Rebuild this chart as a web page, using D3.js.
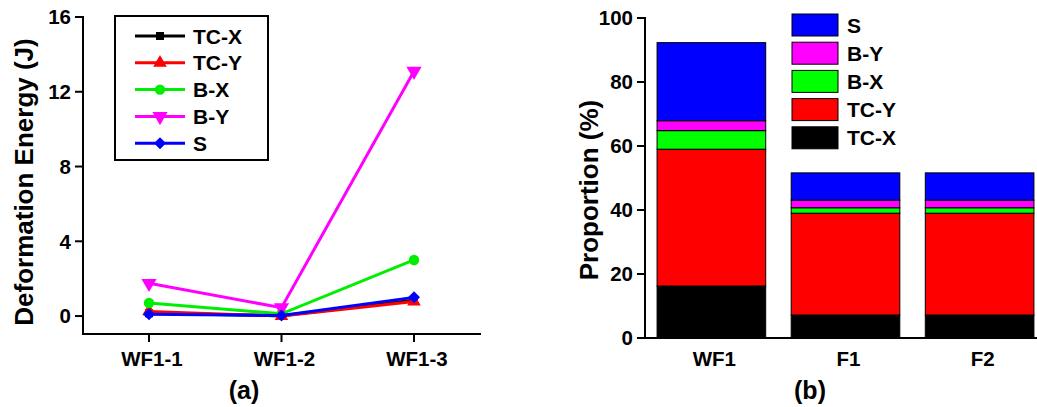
<!DOCTYPE html>
<html><head><meta charset="utf-8">
<script src="https://cdn.jsdelivr.net/npm/d3@7"></script>
<style>body{margin:0;background:#fff}text{font-family:"Liberation Sans",Arial,sans-serif;font-weight:bold;fill:#000}</style>
</head><body><svg id="c" width="1037" height="407"></svg>
<script>
// ---- data ----
const lineCats = ["WF1-1","WF1-2","WF1-3"];
const seriesNames = ["TC-X","TC-Y","B-X","B-Y","S"];
const seriesColors = ["#000000","#ff0000","#00ee00","#ff00ff","#0000ff"];
const tcX = [0.15, 0.02, 0.85];
const tcY = [0.25, 0.00, 0.78];
const bX  = [0.70, 0.12, 3.00];
const bY  = [1.75, 0.45, 13.10];
const sV  = [0.10, 0.03, 1.00];
const leftTicks = [0,4,8,12,16];

const barCats = ["WF1","F1","F2"];
const barTCX = [16.25, 7.2, 7.2];
const barTCY = [42.75, 31.8, 31.8];
const barBX  = [5.8, 1.7, 1.7];
const barBY  = [3.1, 2.4, 2.4];
const barS   = [24.4, 8.5, 8.5];
const rightTicks = [0,20,40,60,80,100];

const svg = d3.select("#c");
svg.append("rect").attr("width",1037).attr("height",407).attr("fill","#fff");

// ---- panel (a) ----
const ya = d3.scaleLinear().domain([-0.96,16]).range([334,17]);
const xa = d3.scalePoint().domain(lineCats).range([149,414]);
const ga = svg.append("g");
ga.append("line").attr("x1",83).attr("x2",83).attr("y1",ya(16)-1).attr("y2",335).attr("stroke","#000").attr("stroke-width",2);
ga.append("line").attr("x1",82).attr("x2",481).attr("y1",334).attr("y2",334).attr("stroke","#000").attr("stroke-width",2);
leftTicks.forEach(t=>{
  ga.append("line").attr("x1",75).attr("x2",83).attr("y1",ya(t)).attr("y2",ya(t)).attr("stroke","#000").attr("stroke-width",2);
  ga.append("text").attr("x",71).attr("y",ya(t)).attr("dy","0.36em").attr("text-anchor","end").attr("font-size",20.5).text(t);
});
lineCats.forEach(c=>{
  ga.append("line").attr("x1",xa(c)).attr("x2",xa(c)).attr("y1",334).attr("y2",342).attr("stroke","#000").attr("stroke-width",2);
  ga.append("text").attr("x",xa(c)+3).attr("y",366).attr("text-anchor","middle").attr("font-size",20.5).text(c);
});
ga.append("text").attr("transform","translate(33,182) rotate(-90)").attr("text-anchor","middle").attr("font-size",26).text("Deformation Energy (J)");
ga.append("text").attr("x",244).attr("y",399).attr("text-anchor","middle").attr("font-size",25).text("(a)");

const symTypes = [d3.symbolSquare, d3.symbolTriangle, d3.symbolCircle, "tridown", "diamond"];
const symSizes = [64, 80, 85, 100, 72];
function marker(g, i, x, y){
  const col = seriesColors[i];
  if (symTypes[i]==="tridown"){
    g.append("path").attr("d",d3.symbol(d3.symbolTriangle, symSizes[i])()).attr("transform",`translate(${x},${y}) rotate(180)`).attr("fill",col);
  } else if (symTypes[i]==="diamond"){
    g.append("path").attr("d",d3.symbol(d3.symbolSquare, symSizes[i])()).attr("transform",`translate(${x},${y}) rotate(45)`).attr("fill",col);
  } else {
    g.append("path").attr("d",d3.symbol(symTypes[i], symSizes[i])()).attr("transform",`translate(${x},${y})`).attr("fill",col);
  }
}
const allSeries = [tcX,tcY,bX,bY,sV];
const line = d3.line().x((d,i)=>xa(lineCats[i])).y(d=>ya(d));
allSeries.forEach((vals,i)=>{
  ga.append("path").attr("d",line(vals)).attr("fill","none").attr("stroke",seriesColors[i]).attr("stroke-width",3);
  vals.forEach((v,j)=>marker(ga,i,xa(lineCats[j]),ya(v)));
});
// legend (a)
ga.append("rect").attr("x",115).attr("y",16).attr("width",153).attr("height",144).attr("fill","#fff").attr("stroke","#000").attr("stroke-width",2);
seriesNames.forEach((n,i)=>{
  const y = 36 + i*26.8;
  ga.append("line").attr("x1",135).attr("x2",185).attr("y1",y).attr("y2",y).attr("stroke",seriesColors[i]).attr("stroke-width",3);
  marker(ga,i,160,y);
  ga.append("text").attr("x",193).attr("y",y).attr("dy","0.36em").attr("font-size",21).text(n);
});

// ---- panel (b) ----
const yb = d3.scaleLinear().domain([0,100]).range([338,18]);
const xb = d3.scaleBand().domain(barCats).range([645,1046]).paddingInner(0.19).paddingOuter(0.09);
const gb = svg.append("g");
const stackKeys = ["TC-X","TC-Y","B-X","B-Y","S"];
const stackCols = ["#000000","#ff0000","#00ff00","#ff00ff","#0000ff"];
const rows = barCats.map((c,i)=>({cat:c,"TC-X":barTCX[i],"TC-Y":barTCY[i],"B-X":barBX[i],"B-Y":barBY[i],"S":barS[i]}));
const stacked = d3.stack().keys(stackKeys)(rows);
stacked.forEach((layer,k)=>{
  gb.selectAll(null).data(layer).enter().append("rect")
    .attr("x",d=>xb(d.data.cat)).attr("width",xb.bandwidth())
    .attr("y",d=>yb(d[1])).attr("height",d=>yb(d[0])-yb(d[1]))
    .attr("fill",stackCols[k]).attr("stroke","#000").attr("stroke-width",1);
});
gb.append("line").attr("x1",645).attr("x2",645).attr("y1",17).attr("y2",339).attr("stroke","#000").attr("stroke-width",2);
gb.append("line").attr("x1",644).attr("x2",1037).attr("y1",338).attr("y2",338).attr("stroke","#000").attr("stroke-width",2);
rightTicks.forEach(t=>{
  gb.append("line").attr("x1",637).attr("x2",645).attr("y1",yb(t)).attr("y2",yb(t)).attr("stroke","#000").attr("stroke-width",2);
  gb.append("text").attr("x",633).attr("y",yb(t)).attr("dy","0.36em").attr("text-anchor","end").attr("font-size",20.5).text(t);
});
barCats.forEach(c=>{
  gb.append("text").attr("x",xb(c)+xb.bandwidth()/2+3).attr("y",366).attr("text-anchor","middle").attr("font-size",20.5).text(c);
});
gb.append("text").attr("transform","translate(598,190) rotate(-90)").attr("text-anchor","middle").attr("font-size",26).text("Proportion (%)");
gb.append("text").attr("x",810).attr("y",399).attr("text-anchor","middle").attr("font-size",25).text("(b)");
const legOrder = ["S","B-Y","B-X","TC-Y","TC-X"];
legOrder.forEach((n,i)=>{
  const k = stackKeys.indexOf(n);
  const y = 14 + i*28.2;
  gb.append("rect").attr("x",792).attr("y",y).attr("width",46).attr("height",22).attr("fill",stackCols[k]).attr("stroke","#000").attr("stroke-width",1);
  gb.append("text").attr("x",847).attr("y",y+11).attr("dy","0.36em").attr("font-size",21).text(n);
});
</script></body></html>
